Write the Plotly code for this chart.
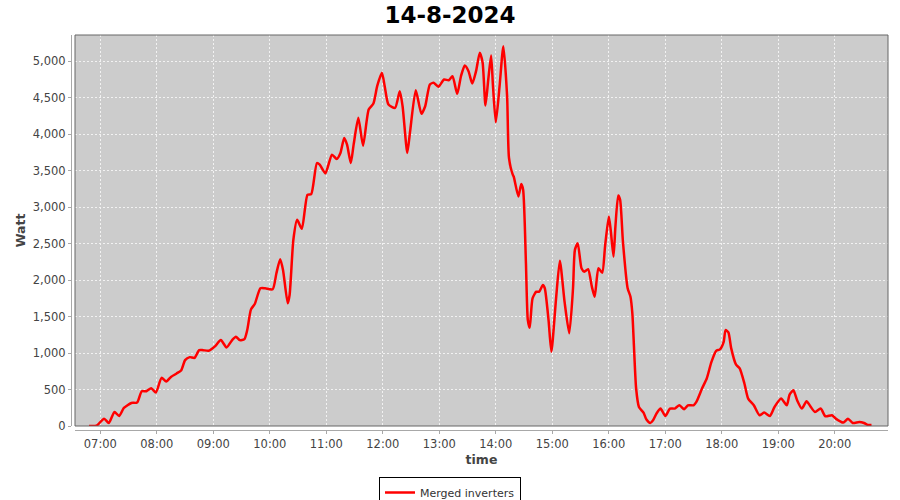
import plotly.graph_objects as go

DATE = "2024-08-14"
times = [
    "06:48", "06:56", "07:04", "07:09", "07:15", "07:20", "07:25", "07:33", "07:39", "07:44",
    "07:49", "07:54", "07:59", "08:05", "08:10", "08:15", "08:21", "08:26", "08:30", "08:35",
    "08:40", "08:45", "08:49", "08:55", "09:02", "09:08", "09:14", "09:20", "09:24", "09:28",
    "09:33", "09:36", "09:40", "09:44", "09:50", "09:55", "10:03", "10:07", "10:11", "10:14",
    "10:19", "10:21", "10:25", "10:29", "10:34", "10:40", "10:44", "10:50", "10:53", "10:59",
    "11:06", "11:11", "11:15", "11:19", "11:22", "11:26", "11:29", "11:34", "11:39", "11:45",
    "11:50", "11:54", "11:59", "12:02", "12:06", "12:13", "12:18", "12:21", "12:26", "12:29",
    "12:35", "12:41", "12:45", "12:50", "12:54", "12:59", "13:05", "13:10", "13:14", "13:19",
    "13:23", "13:27", "13:31", "13:35", "13:39", "13:43", "13:46", "13:49", "13:52", "13:55",
    "13:57", "14:00", "14:04", "14:08", "14:12", "14:14", "14:18", "14:19", "14:24", "14:27",
    "14:29", "14:32", "14:34", "14:36", "14:39", "14:43", "14:46", "14:50", "14:52", "14:56",
    "14:59", "15:04", "15:08", "15:13", "15:18", "15:22", "15:24", "15:27", "15:31", "15:34",
    "15:38", "15:42", "15:45", "15:49", "15:53", "15:56", "16:00", "16:02", "16:05", "16:07",
    "16:10", "16:12", "16:15", "16:20", "16:23", "16:25", "16:29", "16:32", "16:37", "16:40",
    "16:44", "16:47", "16:51", "16:55", "17:00", "17:05", "17:10", "17:15", "17:20", "17:24",
    "17:30", "17:33", "17:39", "17:44", "17:49", "17:54", "17:58", "18:02", "18:04", "18:07",
    "18:10", "18:15", "18:19", "18:24", "18:28", "18:34", "18:40", "18:45", "18:51", "18:56",
    "19:03", "19:09", "19:12", "19:16", "19:20", "19:25", "19:30", "19:34", "19:39", "19:45",
    "19:50", "19:57", "20:01", "20:09", "20:14", "20:19", "20:26", "20:31", "20:35", "20:39",
]
watts = [
    0, 5, 101, 41, 192, 137, 247, 316, 321, 477,
    477, 518, 459, 660, 610, 673, 720, 765, 903, 944,
    934, 1040, 1040, 1031, 1095, 1178, 1077, 1178, 1223, 1178,
    1191, 1315, 1599, 1672, 1888, 1888, 1874, 2094, 2286, 2139,
    1682, 1796, 2552, 2826, 2703, 3170, 3179, 3605, 3582, 3463,
    3719, 3660, 3743, 3949, 3857, 3605, 3857, 4224, 3843, 4338,
    4420, 4658, 4842, 4658, 4406, 4361, 4589, 4383, 3743, 4040,
    4603, 4279, 4383, 4681, 4705, 4650, 4750, 4740, 4795, 4553,
    4795, 4942, 4864, 4695, 4864, 5117, 4980, 4393, 4750, 5080,
    4658, 4163, 4658, 5207, 4520, 3674, 3445, 3421, 3146, 3317,
    3238, 2231, 1452, 1346, 1750, 1841, 1841, 1933, 1888, 1452,
    1017, 1750, 2267, 1704, 1270, 1888, 2414, 2506, 2163, 2116,
    2149, 1910, 1772, 2163, 2102, 2460, 2872, 2689, 2322, 2734,
    3160, 3101, 2528, 1888, 1772, 1544, 514, 261, 179, 88,
    41, 78, 179, 239, 137, 239, 239, 284, 229, 284,
    284, 330, 514, 651, 879, 1031, 1050, 1154, 1315, 1283,
    1064, 844, 789, 583, 376, 284, 147, 184, 137, 261,
    376, 284, 431, 490, 353, 239, 339, 271, 192, 239,
    133, 147, 101, 47, 101, 41, 55, 41, 14, 14,
]
tick_times = ["07:00", "08:00", "09:00", "10:00", "11:00", "12:00", "13:00",
              "14:00", "15:00", "16:00", "17:00", "18:00", "19:00", "20:00"]
y_ticks = [0, 500, 1000, 1500, 2000, 2500, 3000, 3500, 4000, 4500, 5000]

x = [f"{DATE} {t}" for t in times]

FONT = "DejaVu Sans, Verdana, sans-serif"

fig = go.Figure()
fig.add_trace(go.Scatter(
    x=x, y=watts, mode="lines", name="Merged inverters",
    line=dict(color="#ff0000", width=2.5, shape="spline", smoothing=0.6),
))

fig.update_layout(
    width=900, height=500,
    margin=dict(l=71, r=12, t=35, b=70, autoexpand=False),
    paper_bgcolor="white",
    plot_bgcolor="#cccccc",
    font=dict(family=FONT, size=11, color="#444444"),
    title=dict(text="<b>14-8-2024</b>", x=0.5, xref="container", xanchor="center",
               y=1 - 15 / 500, yref="container", yanchor="middle",
               font=dict(family=FONT, size=23, color="#000000")),
    showlegend=True,
    legend=dict(orientation="h", x=0.5, xref="container", xanchor="center",
                y=1 - 477 / 500, yref="container", yanchor="top",
                bordercolor="#000000", borderwidth=1, bgcolor="white",
                font=dict(family=FONT, size=11, color="#333333"),
                itemwidth=30, tracegroupgap=0),
    xaxis=dict(
        domain=[4 / 817, 1], anchor="free", position=0,
        type="date", automargin=False,
        range=[f"{DATE} 06:33:06", f"{DATE} 20:56:30"],
        tickvals=[f"{DATE} {t}" for t in tick_times],
        ticktext=tick_times,
        showgrid=True, gridcolor="#f2f2f2", griddash="2px,2px", gridwidth=1,
        showline=True, linecolor="#a8a8a8", linewidth=1,
        ticks="outside", ticklen=3, tickcolor="#a8a8a8",
        tickfont=dict(family=FONT, size=11.5, color="#444444"),
        title=dict(text="<b>time</b>", font=dict(family=FONT, size=12.5, color="#444444"), standoff=5),
        zeroline=False,
    ),
    yaxis=dict(
        domain=[4 / 395, 1], anchor="free", position=0,
        range=[0, 5360], automargin=False,
        tickvals=y_ticks,
        tickformat=",d",
        showgrid=True, gridcolor="#f2f2f2", griddash="2px,2px", gridwidth=1,
        showline=True, linecolor="#a8a8a8", linewidth=1,
        ticks="outside", ticklen=3, tickcolor="#a8a8a8",
        tickfont=dict(family=FONT, size=11.5, color="#444444"),
        title=dict(text="<b>Watt</b>", font=dict(family=FONT, size=12.5, color="#444444"), standoff=3),
        zeroline=False,
    ),
)

fig.add_shape(type="rect", xref="x domain", yref="y domain", x0=0, x1=1, y0=0, y1=1,
              line=dict(color="#666666", width=1), fillcolor="rgba(0,0,0,0)", layer="above")

fig.write_html("out.html", config={"displayModeBar": False},
               post_script="document.body.style.margin='0';document.body.style.padding='0';document.documentElement.style.overflow='hidden';")
